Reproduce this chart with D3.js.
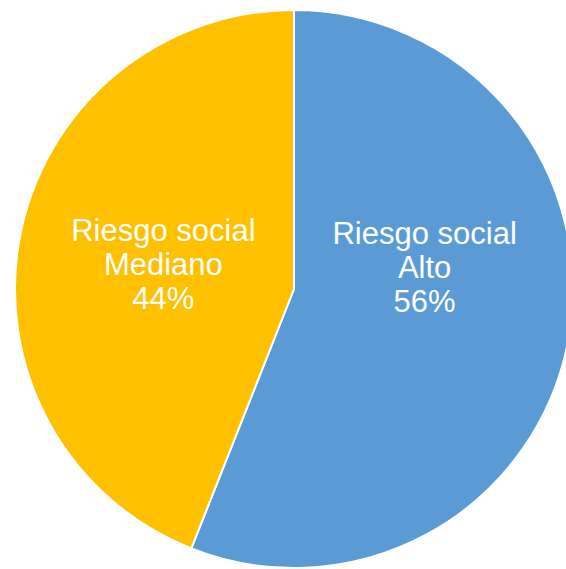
<!DOCTYPE html>
<html>
<head>
<meta charset="utf-8">
<script src="https://cdn.jsdelivr.net/npm/d3@7"></script>
<style>
  html, body { margin: 0; padding: 0; background: #ffffff; }
  svg { display: block; }
</style>
</head>
<body>
<svg id="chart" width="566" height="569"></svg>
<script>
// Social-risk distribution
const categories = ["Alto", "Mediano"];
const values = [56, 44];
const colors = ["#5B9BD5", "#FFC000"];
const labelPrefix = "Riesgo social";

const width = 566, height = 569;
const cx = 294, cy = 289, radius = 279;

const svg = d3.select("#chart");
const g = svg.append("g").attr("transform", `translate(${cx},${cy})`);

const data = categories.map((c, i) => ({ category: c, value: values[i], color: colors[i] }));

const pie = d3.pie().sort(null).value(d => d.value).startAngle(0).endAngle(2 * Math.PI);
const arcs = pie(data);

const arc = d3.arc().innerRadius(0).outerRadius(radius);

g.selectAll("path.slice")
  .data(arcs)
  .join("path")
  .attr("class", "slice")
  .attr("d", arc)
  .attr("fill", d => d.data.color)
  .attr("stroke", "#ffffff")
  .attr("stroke-width", 2)
  .attr("stroke-linejoin", "round");

// Labels: horizontal position from a label arc, lines stacked around the block's centre
const labelArc = d3.arc().innerRadius(133).outerRadius(133);
const verticalShift = { "Alto": -21, "Mediano": -24 };
const lineHeight = 34;
const total = d3.sum(values);

const labels = g.selectAll("text.label")
  .data(arcs)
  .join("text")
  .attr("class", "label")
  .attr("text-anchor", "middle")
  .attr("fill", "#ffffff")
  .style("font-family", "'Liberation Sans', Arial, sans-serif")
  .style("font-size", "31px");

labels.each(function(d) {
  const [x] = labelArc.centroid(d);
  const yMid = verticalShift[d.data.category];
  const lines = [labelPrefix, d.data.category, d3.format(".0%")(d.data.value / total)];
  const t = d3.select(this);
  lines.forEach((line, i) => {
    t.append("tspan")
      .attr("x", x)
      .attr("y", yMid + (i - 1) * lineHeight + 10)
      .text(line);
  });
});
</script>
</body>
</html>
